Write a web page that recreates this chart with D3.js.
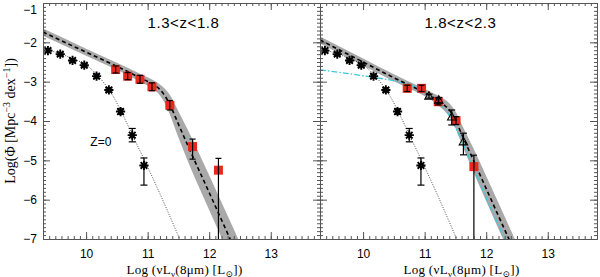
<!DOCTYPE html>
<html>
<head>
<meta charset="utf-8">
<script src="https://cdn.jsdelivr.net/npm/d3@7"></script>
<style>
body { margin: 0; background: #fff; }
svg text { font-family: "Liberation Sans", Arial, sans-serif; }
.serif { font-family: "Liberation Serif", "DejaVu Serif", serif; }
</style>
</head>
<body>
<div id="chart"></div>
<script>
// tick labels / titles
var xTicks = [10, 11, 12, 13];
var yTicks = [-1, -2, -3, -4, -5, -6, -7];
var panelTitles = ["1.3<z<1.8", "1.8<z<2.3"];

// local (z=0) LF, same in both panels
var z0X = [9.38, 9.58, 9.78, 9.97, 10.17, 10.37, 10.56, 10.75, 10.94];
var z0Y = [-2.21, -2.30, -2.46, -2.58, -2.86, -3.21, -3.76, -4.36, -5.13];
var z0ErrHi = [0.04, 0.04, 0.04, 0.04, 0.05, 0.05, 0.07, 0.17, 0.19];
var z0ErrLo = [0.04, 0.04, 0.04, 0.04, 0.05, 0.05, 0.07, 0.17, 0.50];
var z0CurveX = [9.39, 9.6, 9.8, 10.0, 10.15, 10.3, 10.45, 10.6, 10.75, 10.95, 11.2, 11.52];
var z0CurveY = [-2.2, -2.3, -2.43, -2.57, -2.78, -3.05, -3.4, -3.85, -4.35, -5.0, -5.85, -7.0];

// panel 1 : 1.3<z<1.8
var sq1X = [10.48, 10.675, 10.875, 11.07, 11.36, 11.73, 12.15];
var sq1Y = [-2.69, -2.86, -2.94, -3.13, -3.60, -4.65, -5.25];
var sq1ErrHi = [0.09, 0.09, 0.10, 0.10, 0.12, 0.19, 0.30];
var sq1ErrLo = [0.09, 0.09, 0.10, 0.10, 0.12, 0.32, 3.0];
var fit1X = [9.3, 10.0, 10.5, 10.9, 11.1, 11.2, 11.28, 11.36, 11.5, 11.66, 12.0, 12.34, 12.6];
var fit1Y = [-1.74, -2.25, -2.61, -2.92, -3.08, -3.20, -3.36, -3.58, -4.08, -4.65, -5.82, -7.0, -7.9];
var band1Hi = [-1.65, -2.16, -2.52, -2.82, -2.97, -3.07, -3.18, -3.33, -3.75, -4.25, -5.38, -6.55, -7.45];
var band1Lo = [-1.83, -2.34, -2.70, -3.02, -3.20, -3.35, -3.55, -3.83, -4.42, -5.05, -6.26, -7.45, -8.35];

// panel 2 : 1.8<z<2.3
var sq2X = [10.717, 10.95, 11.22, 11.51, 11.80];
var sq2Y = [-3.17, -3.17, -3.51, -3.99, -5.16];
var sq2ErrHi = [0.08, 0.08, 0.08, 0.10, 0.29];
var sq2ErrLo = [0.08, 0.08, 0.08, 0.10, 3.0];
var triX = [11.07, 11.23, 11.44, 11.63];
var triY = [-3.37, -3.47, -3.90, -4.53];
var triErrHi = [0.05, 0.07, 0.18, 0.22];
var triErrLo = [0.05, 0.07, 0.20, 0.33];
var fit2X = [9.3, 10.0, 10.5, 10.9, 11.1, 11.2, 11.3, 11.4, 11.5, 11.6, 11.8, 12.0, 12.36, 12.6];
var fit2Y = [-1.94, -2.5, -2.9, -3.2, -3.36, -3.46, -3.57, -3.72, -3.97, -4.33, -5.02, -5.72, -6.97, -7.8];
var band2Hi = [-1.85, -2.41, -2.81, -3.11, -3.26, -3.34, -3.43, -3.55, -3.76, -4.08, -4.72, -5.40, -6.64, -7.47];
var band2Lo = [-2.03, -2.59, -2.99, -3.29, -3.46, -3.58, -3.71, -3.89, -4.18, -4.58, -5.32, -6.04, -7.30, -8.13];
var cyanX = [9.3, 10.0, 10.5, 10.8, 11.0, 11.2, 11.4, 11.6, 12.0, 12.3];
var cyanY = [-2.70, -2.85, -2.98, -3.10, -3.25, -3.50, -3.85, -4.50, -5.95, -7.0];

function zip(a, b) { return a.map(function (v, i) { return [v, b[i]]; }); }

var panels = [
    { title: panelTitles[0], sqX: sq1X, sqY: sq1Y, sqHi: sq1ErrHi, sqLo: sq1ErrLo,
      fitX: fit1X, fitY: fit1Y, bandHi: band1Hi, bandLo: band1Lo, showZ0Label: true },
    { title: panelTitles[1], sqX: sq2X, sqY: sq2Y, sqHi: sq2ErrHi, sqLo: sq2ErrLo,
      fitX: fit2X, fitY: fit2Y, bandHi: band2Hi, bandLo: band2Lo, cyan: true, tri: true }
];

var W = 600, H = 277;
var margin = {left: 43, top: 3};
var pw = 277, ph = 236;
var axisColor = "#555";
var red = "#e8281e";

var svg = d3.select("#chart").append("svg")
    .attr("width", W)
    .attr("height", H);

var x = d3.scaleLinear().domain([9.3, 13.8]).range([0, pw]);
var y = d3.scaleLinear().domain([-7, -1]).range([ph, 0]);

var line = d3.line()
    .x(function (d) { return x(d[0]); })
    .y(function (d) { return y(d[1]); })
    .curve(d3.curveMonotoneX);

var xMinor = d3.range(93, 139).map(function (v) { return v / 10; });
var yMinor = d3.range(-70, -9).map(function (v) { return v / 10; });

function errBar(g, px, py, hi, lo, cap) {
    var x0 = x(px);
    var yt = y(py + hi), yb = y(py - lo);
    g.append("line").attr("x1", x0).attr("x2", x0).attr("y1", yt).attr("y2", yb)
        .attr("stroke", "#000").attr("stroke-width", 1.2);
    [yt, yb].forEach(function (yy) {
        g.append("line").attr("x1", x0 - cap).attr("x2", x0 + cap).attr("y1", yy).attr("y2", yy)
            .attr("stroke", "#000").attr("stroke-width", 1.2);
    });
}

function asterisk(r) {
    var d = r * 0.72;
    return "M" + (-r) + ",0L" + r + ",0M0," + (-r) + "L0," + r +
        "M" + (-d) + "," + (-d) + "L" + d + "," + d + "M" + (-d) + "," + d + "L" + d + "," + (-d);
}

panels.forEach(function (p, i) {
    var g = svg.append("g")
        .attr("transform", "translate(" + (margin.left + i * pw) + "," + margin.top + ")");

    var clipId = "clip" + i;
    g.append("clipPath").attr("id", clipId)
        .append("rect").attr("width", pw).attr("height", ph);

    var plot = g.append("g").attr("clip-path", "url(#" + clipId + ")");

    // uncertainty band of the fit
    var band = p.fitX.map(function (v, k) { return [v, p.bandLo[k], p.bandHi[k]]; });
    plot.append("path")
        .datum(band)
        .attr("fill", "#a9a9a9")
        .attr("d", d3.area()
            .x(function (d) { return x(d[0]); })
            .y0(function (d) { return y(d[1]); })
            .y1(function (d) { return y(d[2]); })
            .curve(d3.curveMonotoneX));

    if (p.cyan) {
        plot.append("path")
            .datum(zip(cyanX, cyanY))
            .attr("fill", "none")
            .attr("stroke", "#3cc8dc")
            .attr("stroke-width", 1.3)
            .attr("stroke-dasharray", "6,2,1.5,2")
            .attr("d", line);
    }

    plot.append("path")
        .datum(zip(p.fitX, p.fitY))
        .attr("fill", "none")
        .attr("stroke", "#000")
        .attr("stroke-width", 1.6)
        .attr("stroke-dasharray", "4,3")
        .attr("d", line);

    // z=0 curve and points
    plot.append("path")
        .datum(zip(z0CurveX, z0CurveY))
        .attr("fill", "none")
        .attr("stroke", "#222")
        .attr("stroke-width", 0.8)
        .attr("stroke-dasharray", "1,1.5")
        .attr("d", line);

    z0X.forEach(function (v, k) {
        errBar(plot, v, z0Y[k], z0ErrHi[k], z0ErrLo[k], 3.5);
    });
    plot.selectAll(".star")
        .data(zip(z0X, z0Y))
        .enter().append("path")
        .attr("class", "star")
        .attr("transform", function (d) { return "translate(" + x(d[0]) + "," + y(d[1]) + ")"; })
        .attr("d", asterisk(4.6))
        .attr("stroke", "#000")
        .attr("stroke-width", 1.9);

    // red squares
    plot.selectAll(".sq")
        .data(zip(p.sqX, p.sqY))
        .enter().append("rect")
        .attr("class", "sq")
        .attr("x", function (d) { return x(d[0]) - 4.5; })
        .attr("y", function (d) { return y(d[1]) - 4.5; })
        .attr("width", 9)
        .attr("height", 9)
        .attr("fill", red);
    p.sqX.forEach(function (v, k) {
        errBar(plot, v, p.sqY[k], p.sqHi[k], p.sqLo[k], 3);
    });

    if (p.tri) {
        triX.forEach(function (v, k) {
            errBar(plot, v, triY[k], triErrHi[k], triErrLo[k], 3.5);
        });
        plot.selectAll(".tri")
            .data(zip(triX, triY))
            .enter().append("path")
            .attr("class", "tri")
            .attr("transform", function (d) { return "translate(" + x(d[0]) + "," + y(d[1]) + ")"; })
            .attr("d", "M0,-4.5L4.2,3L-4.2,3Z")
            .attr("fill", "none")
            .attr("stroke", "#000")
            .attr("stroke-width", 1.1);
    }

    // axes, ticks pointing inward on all four sides
    function addAxis(axisFn, scale, vals, size, tr, labels) {
        var a = axisFn(scale).tickValues(vals).tickSizeInner(-size).tickSizeOuter(0);
        if (!labels) a.tickFormat("");
        var ag = g.append("g").attr("transform", tr).call(a);
        ag.selectAll("path, line").attr("stroke", axisColor);
        return ag;
    }
    var bottom = "translate(0," + ph + ")", right = "translate(" + pw + ",0)";
    addAxis(d3.axisBottom, x, xMinor, 3, bottom, false);
    addAxis(d3.axisTop, x, xMinor, 3, "translate(0,0)", false);
    addAxis(d3.axisLeft, y, yMinor, 3, "translate(0,0)", false);
    addAxis(d3.axisRight, y, yMinor, 3, right, false);
    addAxis(d3.axisTop, x, xTicks, 7, "translate(0,0)", false);
    addAxis(d3.axisRight, y, yTicks, 7, right, false);

    var xa = d3.axisBottom(x).tickValues(xTicks).tickSizeInner(-7).tickSizeOuter(0)
        .tickPadding(10).tickFormat(d3.format("d"));
    var xg = g.append("g").attr("transform", bottom).call(xa);
    xg.selectAll("path, line").attr("stroke", axisColor);
    xg.selectAll("text").attr("font-size", 12).attr("fill", "#000")
        .style("font-family", "Liberation Sans, Arial, sans-serif");

    var ya = d3.axisLeft(y).tickValues(yTicks).tickSizeInner(-7).tickSizeOuter(0)
        .tickPadding(6).tickFormat(function (d) { return i === 0 ? "\u2212" + Math.abs(d) : ""; });
    var yg = g.append("g").call(ya);
    yg.selectAll("path, line").attr("stroke", axisColor);
    yg.selectAll("text").attr("font-size", 12).attr("fill", "#000")
        .style("font-family", "Liberation Sans, Arial, sans-serif")
        .attr("dy", function (d) { return d === -1 ? "0.85em" : "0.32em"; });

    // panel title
    g.append("text")
        .attr("x", pw / 2 + 2)
        .attr("y", 25)
        .attr("text-anchor", "middle")
        .attr("font-size", 15)
        .attr("letter-spacing", 0.6)
        .text(p.title);

    if (p.showZ0Label) {
        g.append("text")
            .attr("x", x(10.24))
            .attr("y", y(-4.53))
            .attr("dy", "0.35em")
            .attr("text-anchor", "middle")
            .attr("font-size", 12)
            .text("Z=0");
    }

    // x axis title
    var xt = g.append("text")
        .attr("class", "serif")
        .attr("x", pw / 2 + 3)
        .attr("y", 271)
        .attr("text-anchor", "middle")
        .attr("font-size", 13)
        .attr("letter-spacing", 0.3);
    xt.append("tspan").text("Log (\u03bdL");
    xt.append("tspan").attr("font-size", 9).attr("dy", 2.5).text("\u03bd");
    xt.append("tspan").attr("dy", -2.5).text("(8\u03bcm) [L");
    xt.append("tspan").attr("font-size", 9).attr("dy", 2.5).text("\u2299");
    xt.append("tspan").attr("dy", -2.5).text("])");
});

// y axis title
var yt = svg.append("text")
    .attr("class", "serif")
    .attr("transform", "translate(15," + (margin.top + ph / 2) + ") rotate(-90)")
    .attr("text-anchor", "middle")
    .attr("font-size", 14);
yt.append("tspan").text("Log(\u03a6 [Mpc");
yt.append("tspan").attr("font-size", 10).attr("dy", -5).text("\u22123");
yt.append("tspan").attr("dy", 5).text(" dex");
yt.append("tspan").attr("font-size", 10).attr("dy", -5).text("\u22121");
yt.append("tspan").attr("dy", 5).text("])");
</script>
</body>
</html>
